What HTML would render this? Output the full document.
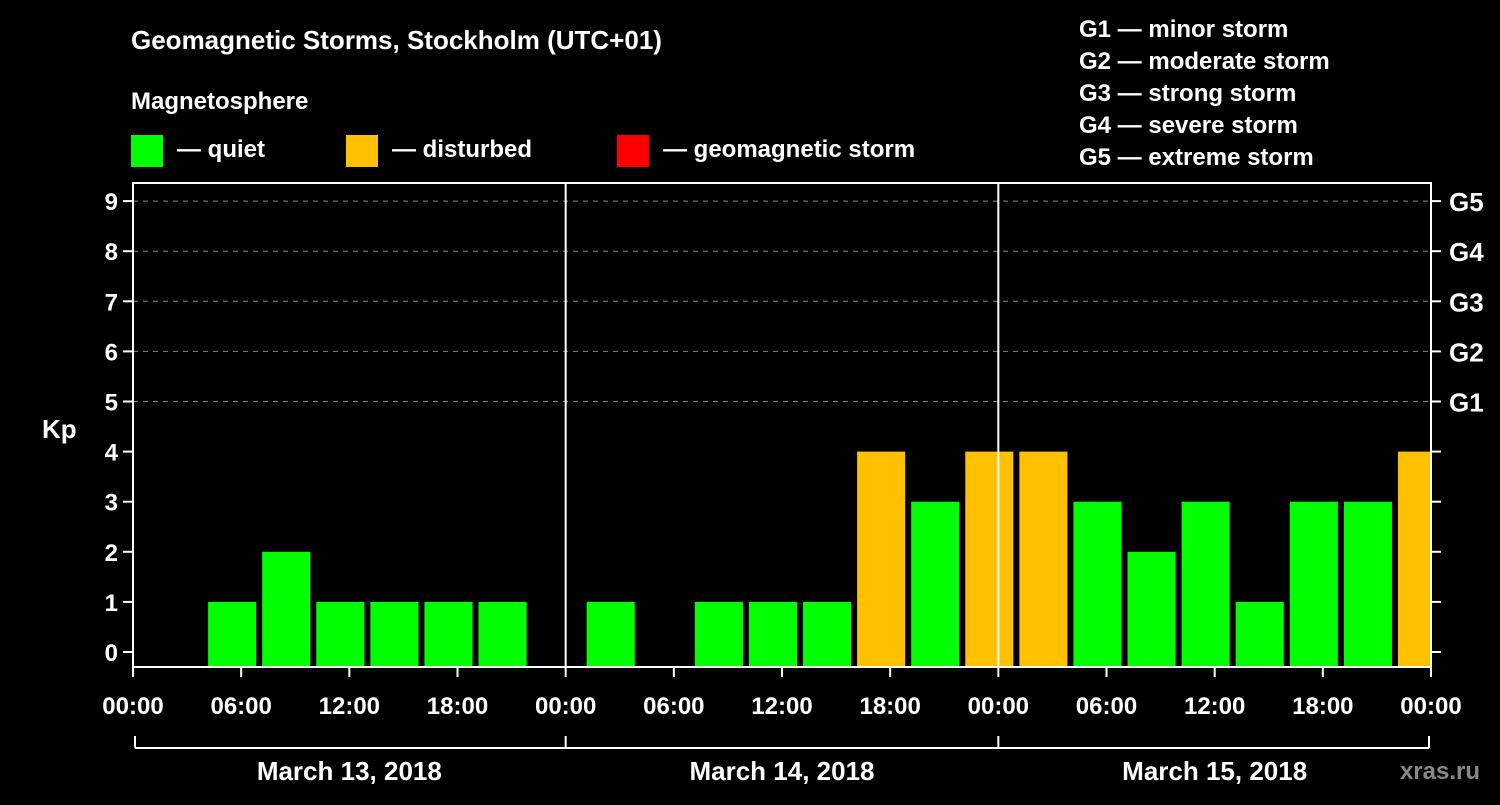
<!DOCTYPE html>
<html><head><meta charset="utf-8"><style>
body{margin:0;background:#000;}
svg text{font-family:"Liberation Sans",sans-serif;font-weight:bold;fill:#fff;}
</style></head><body>
<svg width="1500" height="800" xmlns="http://www.w3.org/2000/svg">
<rect width="1500" height="800" fill="#000"/>
<text x="131" y="49" font-size="26">Geomagnetic Storms, Stockholm (UTC+01)</text>
<text x="131" y="109" font-size="24">Magnetosphere</text>
<g>
<rect x="131" y="135" width="32" height="32" fill="#00ff00"/>
<text x="177" y="157" font-size="24">— quiet</text>
<rect x="346" y="135" width="32" height="32" fill="#ffc000"/>
<text x="392" y="157" font-size="24">— disturbed</text>
<rect x="617" y="135" width="32" height="32" fill="#ff0000"/>
<text x="663" y="157" font-size="24">— geomagnetic storm</text>
</g>
<g font-size="24">
<text x="1079" y="37">G1 — minor storm</text>
<text x="1079" y="69">G2 — moderate storm</text>
<text x="1079" y="101">G3 — strong storm</text>
<text x="1079" y="133">G4 — severe storm</text>
<text x="1079" y="165">G5 — extreme storm</text>
</g>
<text x="42" y="438" font-size="26">Kp</text>
<text x="1480" y="779" font-size="24" text-anchor="end" style="fill:#888">xras.ru</text>
<g id="plot"></g>
</svg>
<script>
const kpValues=[0,1,2,1,1,1,1,0, 1,0,1,1,1,4,3,4, 4,3,2,3,1,3,3,4];
const yTicks=[0,1,2,3,4,5,6,7,8,9];
const gLabels=["G1","G2","G3","G4","G5"];
const xTickLabels=["00:00","06:00","12:00","18:00","00:00","06:00","12:00","18:00","00:00","06:00","12:00","18:00","00:00"];
const dayLabels=["March 13, 2018","March 14, 2018","March 15, 2018"];
const NS="http://www.w3.org/2000/svg";
const L=133,R=1431,T=183,B=667;
const dayW=(R-L)/3;
const x=h=>L+h*dayW/24;
const y=v=>652-v*50.1;
const g=document.getElementById('plot');
function mk(tag,a,txt){const e=document.createElementNS(NS,tag);for(const k in a)e.setAttribute(k,a[k]);if(txt!==undefined)e.textContent=txt;g.appendChild(e);return e;}
// grid
yTicks.forEach(v=>{
 if(v>=5){const e=mk('line',{x1:L,x2:R,y1:y(v),y2:y(v),stroke:'#888','stroke-dasharray':'5,5','stroke-width':1});
 
 }
 const t=mk('line',{x1:L-10,x2:L,y1:y(v),y2:y(v),stroke:'#fff','stroke-width':2});
 
 
 const t2=mk('line',{x1:R,x2:R+10,y1:y(v),y2:y(v),stroke:'#fff','stroke-width':2});
 
 
 const lb=mk('text',{x:L-15,y:y(v)+9,'font-size':24,'text-anchor':'end'},String(v));
 
 
});
gLabels.forEach((s,i)=>{const e=mk('text',{x:R+18,y:y(5+i)+10,'font-size':26},s);
 
 });
// bars
const w3=dayW/8;
kpValues.forEach((v,i)=>{
 if(v<=0)return;
 const x0=x(3*i+1)+3;const x1=Math.min(x0+w3-6,R);
 const c=v>=5?'#ff0000':(v>=4?'#ffc000':'#00ff00');
 const r=mk('rect',{x:x0,y:y(v),width:x1-x0,height:y(0)-y(v)+15,fill:c});
 
 
});
// frame
const f=mk('rect',{x:L,y:T,width:R-L,height:B-T,fill:'none',stroke:'#fff','stroke-width':2});


[1,2].forEach(d=>{const e=mk('line',{x1:L+d*dayW,x2:L+d*dayW,y1:T,y2:B,stroke:'#fff','stroke-width':2});
 
 });
// x ticks
xTickLabels.forEach((s,i)=>{const xx=x(i*6);
 const t=mk('line',{x1:xx,x2:xx,y1:B,y2:B+10,stroke:'#fff','stroke-width':2});
 
 
 const e=mk('text',{x:xx,y:714,'font-size':24,'text-anchor':'middle'},s);
 
 });
const br=mk('line',{x1:L+2,x2:R-2,y1:748,y2:748,stroke:'#fff','stroke-width':2});


[0,1,2,3].forEach(d=>{const xx=d==0?L+2:(d==3?R-2:L+d*dayW);const e=mk('line',{x1:xx,x2:xx,y1:736,y2:748,stroke:'#fff','stroke-width':2});
 
 });
dayLabels.forEach((s,i)=>{const e=mk('text',{x:L+(i+0.5)*dayW,y:780,'font-size':26,'text-anchor':'middle'},s);
 
 });
</script>
</body></html>
